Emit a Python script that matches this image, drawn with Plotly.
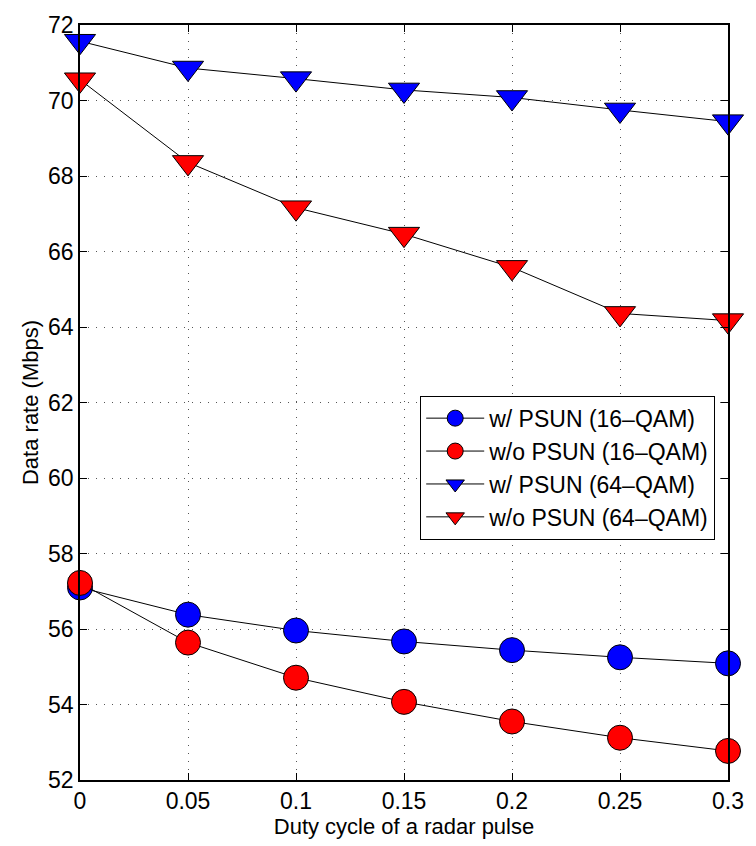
import plotly.graph_objects as go

# Duty cycle of the radar pulse (x axis)
duty_cycle = [0, 0.05, 0.1, 0.15, 0.2, 0.25, 0.3]

# Achieved data rate in Mbps for each scheme
rate_psun_16qam = [57.10, 56.38, 55.96, 55.67, 55.44, 55.25, 55.09]
rate_nopsun_16qam = [57.22, 55.64, 54.71, 54.07, 53.55, 53.12, 52.77]
rate_psun_64qam = [71.57, 70.86, 70.58, 70.28, 70.08, 69.75, 69.44]
rate_nopsun_64qam = [70.55, 68.36, 67.16, 66.46, 65.58, 64.36, 64.17]

series_names = [
    "w/ PSUN (16\u2013QAM)",
    "w/o PSUN (16\u2013QAM)",
    "w/ PSUN (64\u2013QAM)",
    "w/o PSUN (64\u2013QAM)",
]

y_ticks = [52, 54, 56, 58, 60, 62, 64, 66, 68, 70, 72]
x_ticks = [0, 0.05, 0.1, 0.15, 0.2, 0.25, 0.3]
x_tick_text = ["0", "0.05", "0.1", "0.15", "0.2", "0.25", "0.3"]

FONT = "Liberation Sans, Arial, Helvetica, sans-serif"

series = [
    (rate_psun_16qam, "circle", "#0000ff", 25),
    (rate_nopsun_16qam, "circle", "#ff0000", 25),
    (rate_psun_64qam, "triangle-down", "#0000ff", 27),
    (rate_nopsun_64qam, "triangle-down", "#ff0000", 27),
]

fig = go.Figure()
for i, ((values, symbol, color, size), name) in enumerate(zip(series, series_names)):
    fig.add_trace(
        go.Scatter(
            x=duty_cycle,
            y=values,
            name=name,
            legendgroup=f"g{i}",
            mode="lines+markers",
            line=dict(color="black", width=1),
            marker=dict(
                symbol=symbol,
                size=size,
                color=color,
                line=dict(color="black", width=1),
            ),
            cliponaxis=False,
        )
    )

axis_common = dict(
    showline=True,
    linecolor="black",
    linewidth=1.5,
    mirror="ticks",
    ticks="inside",
    ticklen=7,
    tickcolor="black",
    tickwidth=1,
    showgrid=True,
    gridcolor="#555555",
    gridwidth=1,
    griddash="1px,7px",
    zeroline=False,
    tickfont=dict(family=FONT, size=23, color="black"),
)

fig.update_xaxes(
    range=[0, 0.3],
    tickvals=x_ticks,
    ticktext=x_tick_text,
    title=dict(
        text="Duty cycle of a radar pulse",
        font=dict(family=FONT, size=22, color="black"),
        standoff=4,
    ),
    **axis_common,
)
fig.update_yaxes(
    range=[52, 72],
    tickvals=y_ticks,
    title=dict(
        text="Data rate (Mbps)",
        font=dict(family=FONT, size=22, color="black"),
        standoff=3,
    ),
    **axis_common,
)

fig.update_layout(
    width=756,
    height=846,
    margin=dict(l=80, r=19, t=15, b=66),
    paper_bgcolor="white",
    plot_bgcolor="white",
    font=dict(family=FONT, color="black"),
    legend=dict(
        x=0.525,
        y=0.509,
        xanchor="left",
        yanchor="top",
        bgcolor="white",
        bordercolor="black",
        borderwidth=1,
        font=dict(family=FONT, size=23, color="black"),
        itemwidth=58,
        tracegroupgap=0,
    ),
)

fig.write_html("out.html")
